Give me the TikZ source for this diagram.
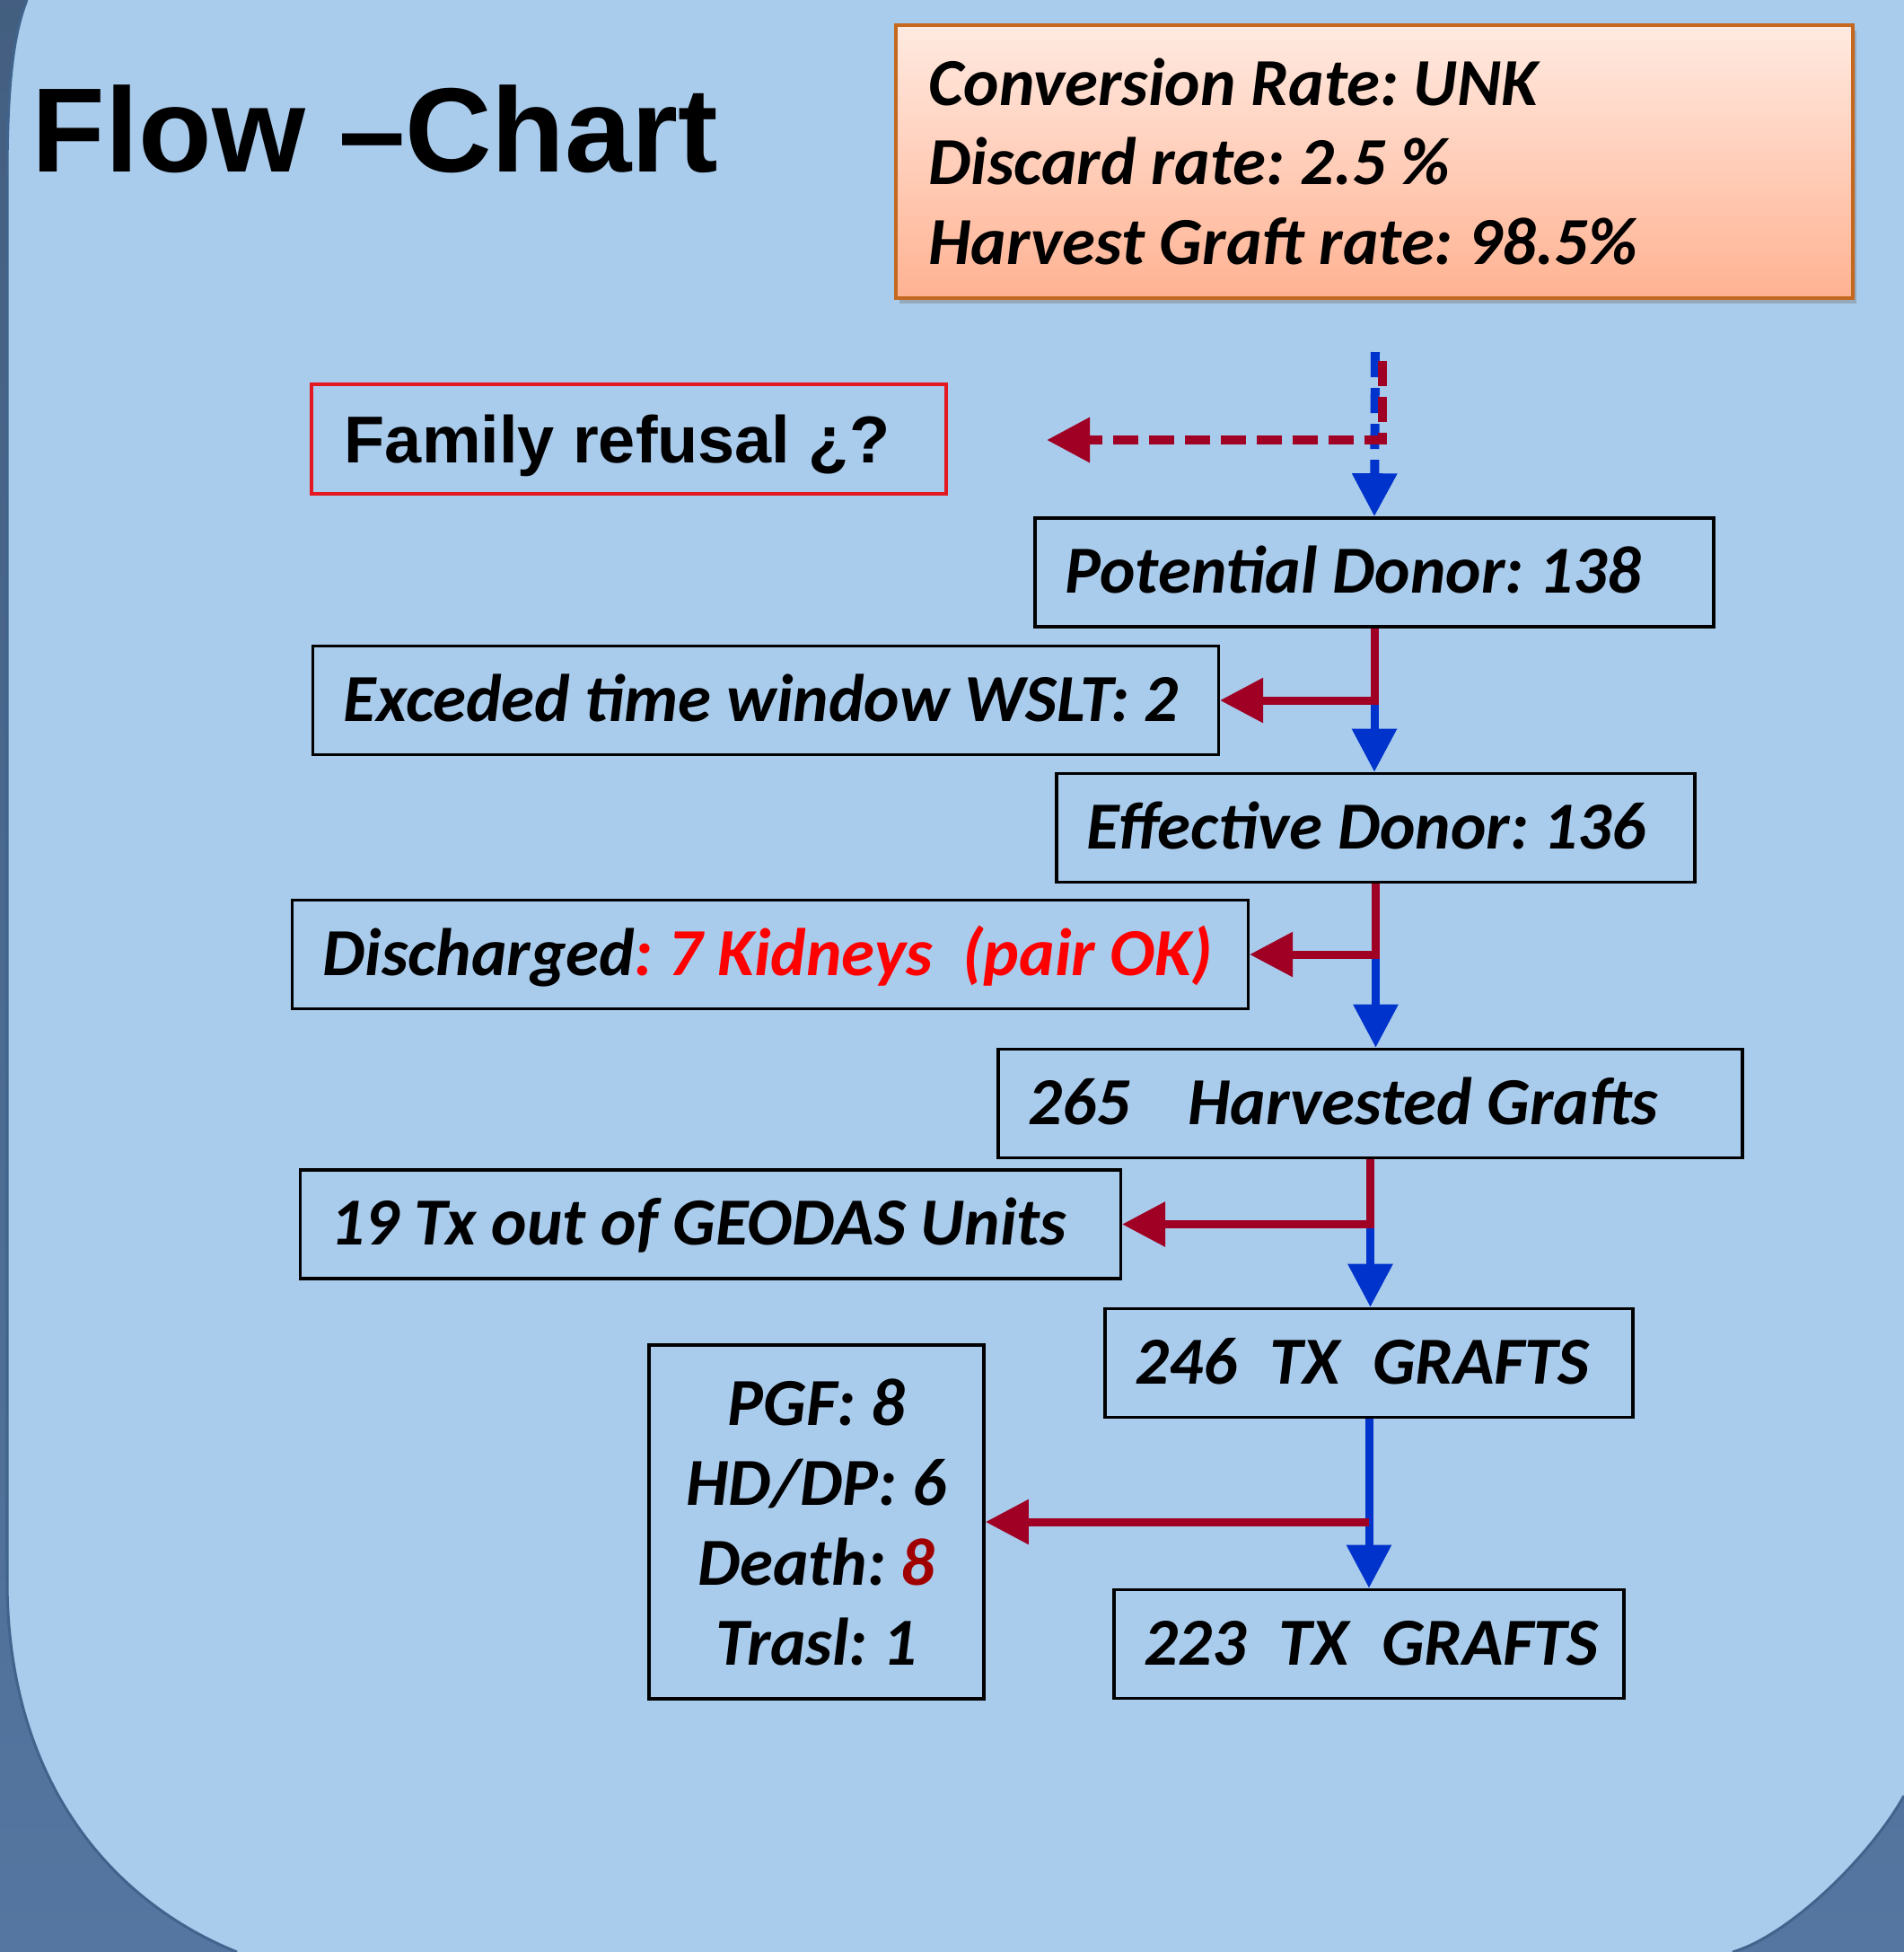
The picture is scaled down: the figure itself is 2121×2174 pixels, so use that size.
\documentclass[tikz,border=0pt]{standalone}
\usepackage{fontspec}
\setmainfont{Carlito}
\newfontfamily\arialfont{Liberation Sans}
\usetikzlibrary{arrows.meta,shadows}

\definecolor{fons}{RGB}{169,203,236}
\definecolor{marc}{RGB}{84,118,160}
\definecolor{vora}{RGB}{64,100,140}
\definecolor{fletxavermella}{RGB}{160,0,35}
\definecolor{fletxablava}{RGB}{0,51,204}
\definecolor{taronjaclar}{RGB}{255,234,225}
\definecolor{taronjafosc}{RGB}{255,178,146}
\definecolor{voretaronja}{RGB}{196,104,32}
\definecolor{vermellmort}{RGB}{160,0,0}

\newcommand{\lletra}{\fontsize{21.3}{25.3}\selectfont\bfseries\itshape\frenchspacing}

\tikzset{
  caixa/.style={draw=black, line width=1pt, align=flush left, text width=#1,
    inner xsep=0.34cm, inner ysep=0pt, minimum height=1.21cm,
    text height=0.5cm, text depth=0.04cm, font=\lletra},
  blau/.style={draw=fletxablava, line width=0.09cm,
    -{Triangle[length=0.48cm,width=0.48cm]}},
  vermell/.style={draw=fletxavermella, line width=0.09cm,
    -{Triangle[length=0.48cm,width=0.48cm]}},
  discontinua/.style={dash pattern=on 0.28cm off 0.12cm, line width=0.1cm}
}

\begin{document}
\begin{tikzpicture}[x=0.01cm, y=-0.01cm]
    \useasboundingbox (0,0) rectangle (2121,2174);

    % FONS DE LA DIAPOSITIVA
    \shade[top color=marc!80!black, bottom color=marc] (0,0) rectangle (2121,2174);
    \fill[fons] (30,0) .. controls (14,40) and (8,100) .. (8,200) -- (8,1760)
        .. controls (8,1990) and (130,2120) .. (264,2174) -- (1930,2174)
        .. controls (1995,2155) and (2085,2065) .. (2121,2000) -- (2121,0) -- cycle;
    \draw[vora, line width=0.03cm] (30,0) .. controls (14,40) and (8,100) .. (8,200) -- (8,1760)
        .. controls (8,1990) and (130,2120) .. (264,2174);
    \draw[vora, line width=0.03cm] (1930,2174) .. controls (1995,2155) and (2085,2065) .. (2121,2000);

    % TITOL
    \node[anchor=base west, inner sep=0pt, font=\arialfont\bfseries\fontsize{38}{40}\selectfont] (titol) at (35,191) {Flow –Chart};

    % QUADRE DE TAXES
    \node[draw=voretaronja, line width=1.2pt, top color=taronjaclar, bottom color=taronjafosc,
          drop shadow={shadow xshift=0.04cm, shadow yshift=-0.06cm, opacity=0.45},
          align=flush left, text width=9.92cm, inner xsep=0.37cm, minimum height=3.04cm, font=\lletra] (taxes) at (1531,180)
        {Conversion Rate: UNK\\Discard rate: 2.5 \%\\Harvest Graft rate: 98.5\%};

    % CAIXES DEL FLUX
    \node[draw={rgb,255:red,228;green,24;blue,32}, line width=1pt, align=flush left, text width=6.33cm,
          inner xsep=0.37cm, inner ysep=0pt, minimum height=1.22cm, text height=0.56cm, text depth=0.03cm,
          font=\arialfont\bfseries\fontsize{21}{25}\selectfont] (familia) at (700.5,489) {Family refusal ¿?};
    \node[caixa=6.88cm] (pd) at (1531,637.5) {\mbox{Potential Donor: 138}};
    \node[caixa=9.40cm] (temps) at (853,780) {\mbox{Exceded time window WSLT: 2}};
    \node[caixa=6.43cm] (ed) at (1532.5,922) {\mbox{Effective Donor: 136}};
    \node[caixa=9.96cm] (descart) at (858,1063) {\mbox{Discharged{\color{red}: 7 Kidneys\ \ (pair OK)}}};
    \node[caixa=7.61cm] (hg) at (1526.5,1229) {\mbox{265\hspace{0.64cm}Harvested Grafts}};
    \node[caixa=8.45cm] (geodas) at (791.5,1363.5) {\mbox{19 Tx out of GEODAS Units}};
    \node[caixa=5.20cm] (tx1) at (1525,1518) {\mbox{246\hspace{0.36cm}TX\hspace{0.36cm}GRAFTS}};
    \node[caixa=5.00cm] (tx2) at (1525,1831) {\mbox{223\hspace{0.36cm}TX\hspace{0.36cm}GRAFTS}};
    \node[draw=black, line width=1pt, align=center, minimum width=3.73cm, minimum height=3.94cm,
          inner sep=0pt, font=\lletra] (perdues) at (909.5,1695)
        {PGF: 8\\HD/DP: 6\\Death: {\color{vermellmort}8}\\Trasl: 1};

    % FLETXES DISCONTINUES (entrada)
    \coordinate (entrada) at (1532,392);
    \coordinate (rinici) at (1540,402);
    \coordinate (rfi) at (1166,490);
    \draw[blau, discontinua] (entrada) -- (pd.north);
    \draw[vermell, discontinua] (rinici) |- (rfi);

    % FLETXES BLAVES (pas al seguent nivell)
    \foreach \a/\b in {pd/ed, ed/hg, hg/tx1, tx1/tx2}
        \draw[blau] (\a.south) -- (\a.south |- \b.north);

    % FLETXES VERMELLES (perdues)
    \foreach \a/\b in {pd/temps, ed/descart, hg/geodas}
        \draw[vermell] (\a.south) |- (\b.east);
    \draw[vermell] (tx1.south |- perdues.east) -- (perdues.east);

\end{tikzpicture}
\end{document}
